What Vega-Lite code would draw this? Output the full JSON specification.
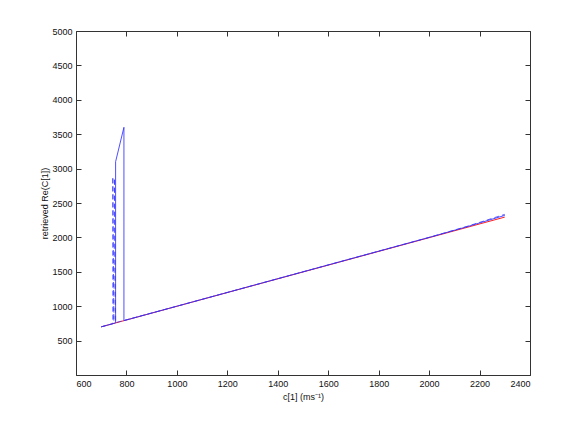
{
  "$schema": "https://vega.github.io/schema/vega-lite/v6.json",
  "width": 454,
  "height": 344,
  "autosize": {"type": "none"},
  "padding": {"left": 76, "top": 31, "right": 55, "bottom": 48},
  "background": "white",
  "config": {
    "view": {"stroke": null},
    "axis": {
      "grid": false,
      "domainColor": "#333333",
      "tickColor": "#333333",
      "labelColor": "#111111",
      "titleColor": "#111111",
      "labelFont": "Liberation Sans",
      "titleFont": "Liberation Sans",
      "labelFontSize": 9,
      "titleFontSize": 9,
      "titleFontWeight": "normal",
      "tickSize": -5,
      "domainWidth": 1,
      "tickWidth": 1
    }
  },
  "data": {
    "values": [
      {"s": "true", "i": 0, "c": 700, "r": 700},
      {"s": "true", "i": 1, "c": 2300, "r": 2295},
      {"s": "dashed", "i": 0, "c": 700, "r": 700},
      {"s": "dashed", "i": 1, "c": 746, "r": 746},
      {"s": "dashed", "i": 2, "c": 746, "r": 2880},
      {"s": "dashed", "i": 3, "c": 750, "r": 780},
      {"s": "dashed", "i": 4, "c": 753, "r": 2860},
      {"s": "dashed", "i": 5, "c": 757, "r": 760},
      {"s": "dashed", "i": 6, "c": 1000, "r": 1000},
      {"s": "dashed", "i": 7, "c": 2000, "r": 2000},
      {"s": "dashed", "i": 8, "c": 2150, "r": 2160},
      {"s": "dashed", "i": 9, "c": 2300, "r": 2335},
      {"s": "solid", "i": 0, "c": 700, "r": 700},
      {"s": "solid", "i": 1, "c": 757, "r": 757},
      {"s": "solid", "i": 2, "c": 757, "r": 3100},
      {"s": "solid", "i": 3, "c": 790, "r": 3600},
      {"s": "solid", "i": 4, "c": 790, "r": 790},
      {"s": "solid", "i": 5, "c": 1000, "r": 1000},
      {"s": "solid", "i": 6, "c": 2000, "r": 2000},
      {"s": "solid", "i": 7, "c": 2150, "r": 2155},
      {"s": "solid", "i": 8, "c": 2300, "r": 2320}
    ]
  },
  "encoding": {
    "x": {"field": "c", "type": "quantitative", "scale": {"domain": [600, 2400], "nice": false}},
    "y": {"field": "r", "type": "quantitative", "scale": {"domain": [0, 5000], "nice": false}},
    "order": {"field": "i", "type": "quantitative"}
  },
  "layer": [
    {
      "transform": [{"filter": "datum.s === 'true'"}],
      "mark": {"type": "line", "color": "#ff2020", "strokeWidth": 1},
      "encoding": {
        "x": {"field": "c", "type": "quantitative", "scale": {"domain": [600, 2400], "nice": false},
          "axis": {"orient": "bottom", "values": [600, 800, 1000, 1200, 1400, 1600, 1800, 2000, 2200, 2400], "format": "d", "title": "c[1] (ms⁻¹)", "labelPadding": 9, "titlePadding": 4}},
        "y": {"field": "r", "type": "quantitative", "scale": {"domain": [0, 5000], "nice": false},
          "axis": {"orient": "left", "values": [0, 500, 1000, 1500, 2000, 2500, 3000, 3500, 4000, 4500, 5000], "labelExpr": "datum.value === 0 ? '' : datum.label", "format": "d", "title": "retrieved Re(C[1])", "labelPadding": 9, "titlePadding": 2}}
      }
    },
    {
      "transform": [{"filter": "datum.s === 'dashed'"}],
      "mark": {"type": "line", "color": "#3030ff", "strokeWidth": 1, "strokeDash": [5, 3], "opacity": 0.75},
      "encoding": {
        "x": {"field": "c", "type": "quantitative", "scale": {"domain": [600, 2400], "nice": false},
          "axis": {"orient": "top", "values": [600, 800, 1000, 1200, 1400, 1600, 1800, 2000, 2200, 2400], "labels": false, "title": null}},
        "y": {"field": "r", "type": "quantitative", "scale": {"domain": [0, 5000], "nice": false},
          "axis": {"orient": "right", "values": [0, 500, 1000, 1500, 2000, 2500, 3000, 3500, 4000, 4500, 5000], "labels": false, "title": null}}
      }
    },
    {
      "transform": [{"filter": "datum.s === 'solid'"}],
      "mark": {"type": "line", "color": "#3030ff", "strokeWidth": 1, "opacity": 0.85},
      "encoding": {
        "x": {"field": "c", "type": "quantitative", "scale": {"domain": [600, 2400], "nice": false}, "axis": null},
        "y": {"field": "r", "type": "quantitative", "scale": {"domain": [0, 5000], "nice": false}, "axis": null}
      }
    }
  ],
  "resolve": {"axis": {"x": "independent", "y": "independent"}}
}
